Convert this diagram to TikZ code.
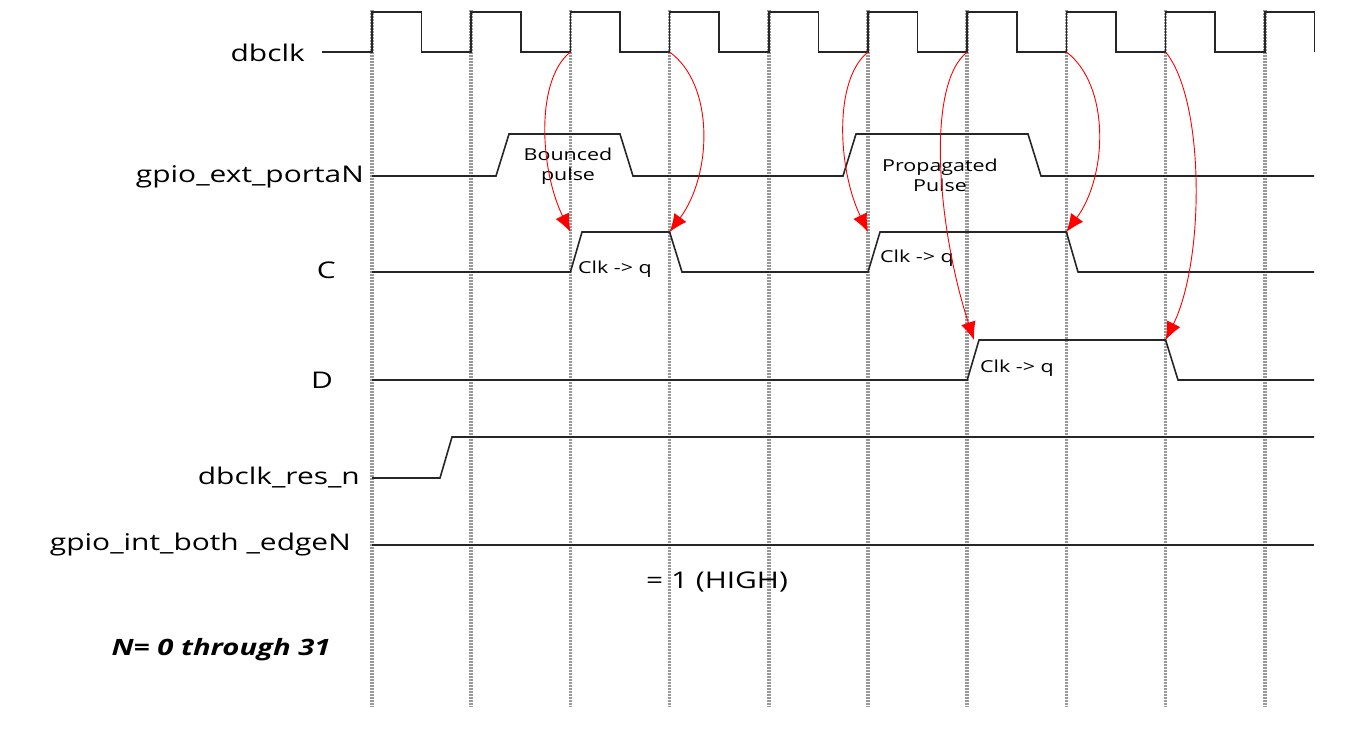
\documentclass[tikz,border=0pt]{standalone}
\usepackage{fontspec}
\setmainfont[FakeStretch=1.3]{Open Sans}
\usetikzlibrary{arrows.meta}
\begin{document}
\begin{tikzpicture}[x=1pt,y=-1pt,
  grid/.style={draw=black!40,line width=3.5pt,dash pattern=on 2pt off 1pt},
  sig/.style={draw=black!85,line width=1.6pt,line join=miter},
  redarrow/.style={draw=red,line width=0.9pt,-{Latex[length=18pt,width=15pt]}},
  lab/.style={inner sep=0pt,font=\fontsize{23}{27}\selectfont},
  small/.style={inner sep=0pt,font=\fontsize{16.5}{23}\selectfont,align=center}]
\useasboundingbox (0,0) rectangle (1368,729);
% grid lines
\foreach \k in {0,...,9} \draw[grid] ({372+99.2*\k},10) -- ({372+99.2*\k},707);
% signal names
\node[lab,anchor=east] (lclk) at (305,53) {dbclk};
\node[lab,anchor=east] (lext) at (364,177) {gpio\_ext\_portaN};
\node[lab,anchor=east] (lc) at (336,270) {C};
\node[lab,anchor=east] (ld) at (333,380) {D};
\node[lab,anchor=east] (lres) at (360,478) {dbclk\_res\_n};
\node[lab,anchor=east] (lint) at (351,545) {gpio\_int\_both \_edgeN};
\node[lab] (high) at (717,582) {= 1 (HIGH)};
\node[inner sep=0pt,font=\fontsize{22.5}{27}\selectfont\bfseries\itshape] (nn) at (221,650) {N= 0 through 31};
% clock
\draw[sig] (322,52) \foreach \k in {0,...,9} { -- ({372+99.2*\k},52) -- ++(0,-40) -- ++(49.6,0) -- ++(0,40) };
% gpio_ext_portaN
\draw[sig] (372,176) -- (496,176) -- (509,134) -- (620,134) -- (633,176) -- (843,176) -- (856,134) -- (1028,134) -- (1041,176) -- (1314,176);
\node[small] (bp) at (568,166) {Bounced\\[-3pt]pulse};
\node[small] (pp) at (940,175) {Propagated\\[-3pt]Pulse};
% C
\draw[sig] (372,272) -- (570.4,272) -- (582,232) -- (669.6,232) -- (682,272) -- (868,272) -- (880,232) -- (1066.4,232) -- (1078,272) -- (1314,272);
\node[small,anchor=west] (cq1) at (578,269) {Clk -> q};
\node[small,anchor=west] (cq2) at (880,258) {Clk -> q};
% D
\draw[sig] (372,380) -- (967.2,380) -- (979,340) -- (1165.6,340) -- (1178,380) -- (1314,380);
\node[small,anchor=west] (cq3) at (980,368) {Clk -> q};
% dbclk_res_n
\draw[sig] (372,478) -- (440,478) -- (452,437) -- (1314,437);
% gpio_int_both_edgeN
\draw[sig] (372,545) -- (1314,545);
% arrow end points
\coordinate (e2) at (570.4,52); \coordinate (e3) at (669.6,52);
\coordinate (e5) at (868,52); \coordinate (e6) at (967.2,52);
\coordinate (e7) at (1066.4,52); \coordinate (e8) at (1165.6,52);
\coordinate (c1) at (570.4,232); \coordinate (c2) at (669.6,232);
\coordinate (c3) at (868,232); \coordinate (c4) at (1066.4,232);
\coordinate (d1) at (974,340); \coordinate (d2) at (1165.6,340);
\draw[redarrow] (e2) .. controls (535,80) and (540,170) .. (c1);
\draw[redarrow] (e3) .. controls (715,85) and (712,175) .. (c2);
\draw[redarrow] (e5) .. controls (833,80) and (838,170) .. (c3);
\draw[redarrow] (e6) .. controls (925,85) and (938,230) .. (d1);
\draw[redarrow] (e7) .. controls (1110,85) and (1108,175) .. (c4);
\draw[redarrow] (e8) .. controls (1205,100) and (1205,260) .. (d2);
\end{tikzpicture}
\end{document}
